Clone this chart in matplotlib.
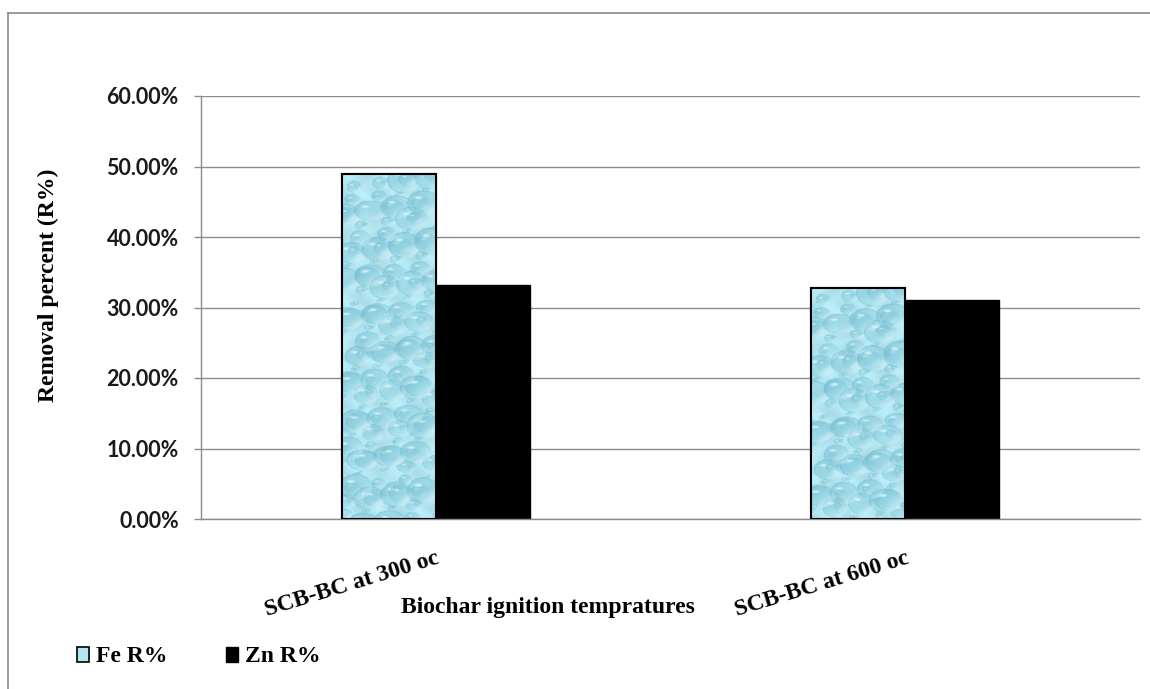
import numpy as np
import matplotlib
matplotlib.use("Agg")
import matplotlib.pyplot as plt
from matplotlib.patches import Patch
from matplotlib.lines import Line2D
from matplotlib.ticker import PercentFormatter

categories = ["SCB-BC at 300 oc", "SCB-BC at 600 oc"]
fe_removal = [0.489, 0.328]
zn_removal = [0.332, 0.310]
series_names = ["Fe R%", "Zn R%"]
y_ticks = [0.0, 0.1, 0.2, 0.3, 0.4, 0.5, 0.6]

SERIF = "Liberation Serif"
SANS = "Lato"
GRID = "#8c8c8c"
FE_BASE = (0.70, 0.90, 0.94)


def droplet_texture(rows, cols):
    """Light cyan water-drop fill used inside the Fe bars."""
    yy, xx = np.mgrid[0:rows, 0:cols].astype(float)
    img = np.ones((rows, cols, 3)) * np.array(FE_BASE)
    mottle = 0.035 * np.sin(xx / 6.0 + 2.0 * np.sin(yy / 10.0)) * np.cos(yy / 8.0)
    img += mottle[..., None]
    dark = np.array([0.45, 0.74, 0.82])
    light = np.array([0.92, 0.99, 1.0])

    n = int(rows * cols / 200)
    for k in range(n):
        cx = ((k * 0.6180339887 + 0.11) % 1.0) * cols
        cy = ((k * 0.7548776662 + 0.37) % 1.0) * rows
        r = 3.0 + 14.0 * abs(np.sin(k * 1.73)) ** 4
        ry = r * (0.7 + 0.25 * abs(np.cos(k * 2.3)))
        dx = (xx - cx) / r
        dy = (yy - cy) / ry
        d2 = dx * dx + dy * dy
        inside = d2 < 1.0
        if not inside.any():
            continue
        a = np.clip(0.28 - 0.2 * (dx + dy) / 1.41, 0, 1) * inside
        rim = ((d2 > 0.8) & inside) * 0.18
        img = img * (1 - (a + rim)[..., None]) + dark * (a + rim)[..., None]
        # bright lower-right lip and upper-left glint
        lip = np.clip((dx + dy) / 1.41 - 0.4, 0, 1) * inside * 0.8
        img = img * (1 - lip[..., None]) + light * lip[..., None]
        hx = (xx - (cx - 0.3 * r)) / (0.3 * r)
        hy = (yy - (cy - 0.4 * ry)) / (0.16 * ry)
        glint = np.clip(1.0 - (hx * hx + hy * hy), 0, 1) * 0.75
        img = img * (1 - glint[..., None]) + light * glint[..., None]
    return np.clip(img, 0, 1)


fig = plt.figure(figsize=(11.5, 6.89), dpi=100)
ax = fig.add_axes([201 / 1150, 1 - 519 / 689, 939 / 1150, 423 / 689])

x = np.arange(len(categories))
width = 0.2

fe_bars = ax.bar(x - width / 2, fe_removal, width, color=FE_BASE,
                 edgecolor="black", linewidth=1.5, zorder=2, label=series_names[0])
zn_bars = ax.bar(x + width / 2, zn_removal, width, color="black",
                 edgecolor="black", linewidth=1.0, zorder=2, label=series_names[1])

# texture each Fe bar, keeping drop size constant regardless of height
tex = droplet_texture(420, 96)
for bar, val in zip(fe_bars, fe_removal):
    rows = max(2, int(round(420 * val / 0.5)))
    rows = min(rows, tex.shape[0])
    x0 = bar.get_x()
    im = ax.imshow(tex[:rows], extent=(x0, x0 + bar.get_width(), 0, val),
                   aspect="auto", interpolation="bilinear", zorder=2.2)
    im.set_clip_path(bar)
ax.bar(x - width / 2, fe_removal, width, fill=False, edgecolor="black",
       linewidth=1.5, zorder=3)

ax.set_xlim(-0.5, len(categories) - 0.5)
ax.set_ylim(0, 0.6)
ax.set_yticks(y_ticks)
ax.yaxis.set_major_formatter(PercentFormatter(1.0, decimals=2))
ax.yaxis.grid(True, color=GRID, linewidth=1.0, zorder=0)
ax.set_axisbelow(True)

for side in ["top", "right"]:
    ax.spines[side].set_visible(False)
ax.spines["left"].set_color(GRID)
ax.spines["bottom"].set_color(GRID)
ax.spines["left"].set_linewidth(1.0)
ax.spines["bottom"].set_linewidth(1.0)

ax.tick_params(axis="y", length=5, width=1.0, color=GRID, pad=11)
ax.tick_params(axis="x", length=0)
for lbl in ax.get_yticklabels():
    lbl.set_fontfamily(SANS)
    lbl.set_fontweight("bold")
    lbl.set_fontsize(15.5)
    lbl.set_color("#1a1a1a")

ax.set_xticks(x)
ax.set_xticklabels([])
for xi, name in zip(x, categories):
    ax.text(xi, -0.068, name, transform=ax.get_xaxis_transform(),
            rotation=17, rotation_mode="anchor", ha="right", va="top",
            fontfamily=SERIF, fontweight="bold", fontsize=17)

fig.text(548 / 1150, 1 - 607 / 689, "Biochar ignition tempratures",
         ha="center", va="center", fontfamily=SERIF, fontweight="bold", fontsize=17)
fig.text(48 / 1150, 1 - 285 / 689, "Removal percent (R%)", rotation=90,
         ha="center", va="center", fontfamily=SERIF, fontweight="bold", fontsize=17)

handles = [Patch(facecolor=FE_BASE, edgecolor="black", linewidth=1.2),
           Patch(facecolor="black", edgecolor="black")]
fig.legend(handles, series_names, loc="center left",
           bbox_to_anchor=(65 / 1150, 1 - 657 / 689), ncol=2, frameon=False,
           handlelength=0.5, handleheight=0.6, handletextpad=0.3,
           columnspacing=2.5, borderpad=0,
           prop={"family": SERIF, "weight": "bold", "size": 17})

# chart frame: only the top and left edges fall inside the image
fig.add_artist(Line2D([8 / 1150, 8 / 1150], [0, 1 - 13 / 689],
                      transform=fig.transFigure, color="#8a8a8a", linewidth=1.2))
fig.add_artist(Line2D([8 / 1150, 1], [1 - 13 / 689, 1 - 13 / 689],
                      transform=fig.transFigure, color="#8a8a8a", linewidth=1.2))

fig.savefig("out.png", dpi=100, facecolor="white")
